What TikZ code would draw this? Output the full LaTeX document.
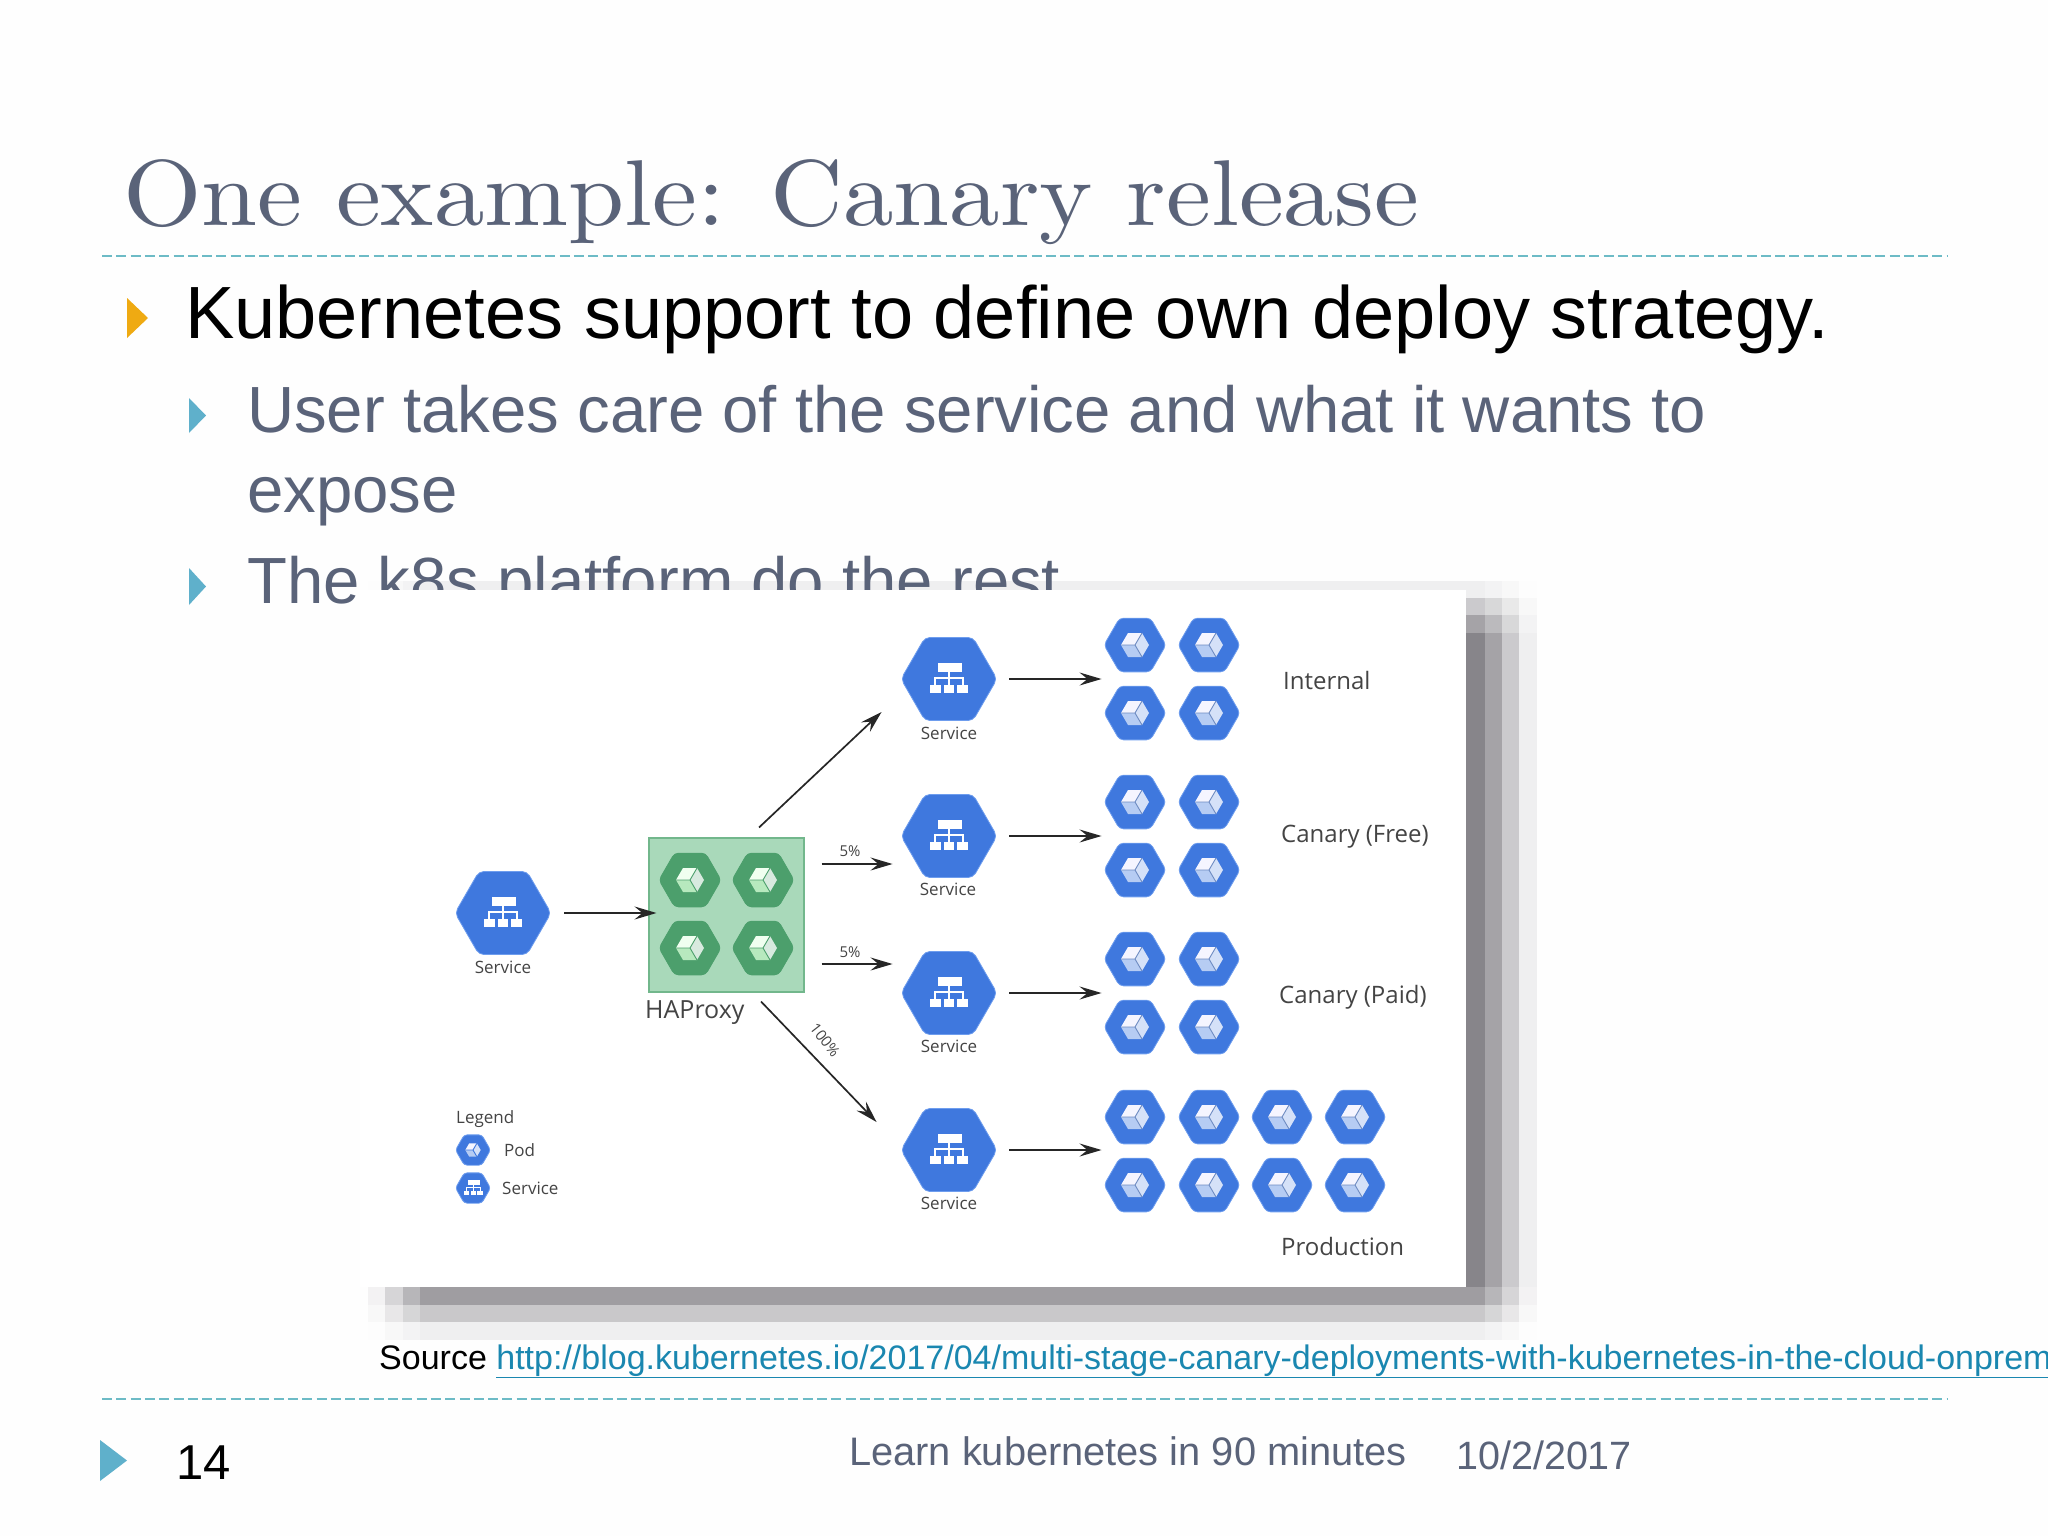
\documentclass[tikz,border=0pt]{standalone}
\usepackage{fontspec}
\usetikzlibrary{arrows.meta,shapes.geometric}
\newfontfamily\arialf{Liberation Sans}
\newfontfamily\imgf{Open Sans}
\newfontfamily\titlef[Extension=.otf,FakeStretch=1.079]{lmroman10-regular}
\definecolor{slate}{HTML}{5A6379}
\definecolor{teal1}{HTML}{5FB0CB}
\definecolor{dashc}{HTML}{6DBBC6}
\definecolor{gold1}{HTML}{EFAA12}
\definecolor{linkc}{HTML}{1A87B0}
\definecolor{shadowc}{HTML}{87858A}
\definecolor{hexblue}{HTML}{3F78DE}
\definecolor{hexrim}{HTML}{6E9DEE}
\definecolor{hexgreen}{HTML}{4C9F6C}
\definecolor{boxfill}{HTML}{A9D9BA}
\definecolor{boxrim}{HTML}{72B78C}
\definecolor{imgtext}{HTML}{444444}
\newcommand\fs[1]{\fontsize{#1}{#1}\selectfont}
\tikzset{
 x=1pt,y=-1pt,
 svchex/.style={regular polygon,regular polygon sides=6,inner sep=0pt,minimum size=96pt,fill=hexblue,draw=hexrim,line width=.8pt,rounded corners=5pt},
 podhex/.style={svchex,minimum size=62pt,rounded corners=4pt},
 leghex/.style={svchex,minimum size=35pt,rounded corners=3pt},
 greenhex/.style={podhex,fill=hexgreen,draw=hexgreen},
 arr/.style={-{Stealth[length=22pt,width=13pt,inset=8pt]},line width=1.7pt,draw=black!85},
 slab/.style={font=\imgf\fs{17},text=imgtext,inner sep=0pt},
 ilab/.style={font=\imgf\fs{24},text=imgtext,inner sep=0pt},
 smalllab/.style={font=\imgf\fs{15},text=imgtext,inner sep=0pt},
 slidetext/.style={font=\arialf\fs{65.3},text=slate,anchor=base west,inner sep=0pt},
 dashline/.style={draw=dashc,line width=1.5pt,dash pattern=on 10pt off 4.3pt},
}
% cube glyph
\newcommand\mycube[7]{% x y scale top right left linecolour
 \begin{scope}[shift={(#1,#2)},scale=#3]
 \fill[#4] (0,0)--(-14,0)--(-7,-12)--(7,-12)--cycle;
 \fill[#5] (0,0)--(7,-12)--(14,0)--(7,12)--cycle;
 \fill[#6] (0,0)--(7,12)--(-7,12)--(-14,0)--cycle;
 \draw[#7,line width=.9pt] (-14,0)--(0,0)--(7,-12) (0,0)--(7,12);
 \end{scope}}
% org-chart glyph
\newcommand\orgicon[4]{%
 \begin{scope}[shift={(#1,#2)},scale=#3]
 \fill[white] (-11,-16) rectangle (13,-7);
 \draw[white,line width=#4] (0,-7)--(0,6) (-14,6)--(-14,-1)--(14,-1)--(14,6);
 \fill[white] (-19,6) rectangle (-8,14);
 \fill[white] (-5,6) rectangle (5,14);
 \fill[white] (8,6) rectangle (19,14);
 \end{scope}}
\newcommand\pod[3]{\node[podhex] (#1) at (#2,#3) {};
 \mycube{#2}{#3}{1}{blue!4!white}{hexblue!22!white}{hexblue!38!white}{hexblue!75!black!70!white}}
\newcommand\gpod[3]{\node[greenhex] (#1) at (#2,#3) {};
 \mycube{#2}{#3}{1}{green!6!white}{hexgreen!22!white}{green!35!hexgreen!35!white}{hexgreen}}
\newcommand\svc[3]{\node[svchex] (#1) at (#2,#3) {};
 \orgicon{#2}{#3}{1}{1.8pt}}
\begin{document}
\begin{tikzpicture}
\useasboundingbox (0,0) rectangle (2048,1536);
\clip (0,0) rectangle (2048,1536);
\fill[white!99.5!black] (0,0) rectangle (2048,1536);
% soft pixelated shadow of the picture
\foreach \xa/\xb/\ca in {368/385/.13,385/403/.43,403/420/.75,420/1485/1,1485/1502/.75,1502/1519/.43,1519/1537/.13}{
 \foreach \ya/\yb/\cb in {581/598/.13,598/615/.43,615/633/.75,633/1287/1,1287/1305/.8,1305/1322/.45,1322/1340/.13}{
  \pgfmathsetmacro\v{100*\ca*\cb}
  \fill[shadowc!\v!white] (\xa,\ya) rectangle (\xb,\yb);
 }}
% slide text
\node[font=\titlef\fs{93.5},text=slate,anchor=base west,inner sep=0pt] (title) at (123,225) {One example: Canary release};
\draw[dashline] (102,256) -- (1948,256);
\fill[gold1] (127,298)--(148,318)--(127,338)--cycle;
\node[slidetext,font=\arialf\fs{74},text=black] (l1) at (185,338) {Kubernetes support to define own deploy strategy.};
\fill[teal1] (189,398)--(206,415.5)--(189,433)--cycle;
\node[slidetext] (l2) at (247,432) {User takes care of the service and what it wants to};
\node[slidetext] (l2b) at (247,512) {expose};
\fill[teal1] (189,568)--(206,586.5)--(189,605)--cycle;
\node[slidetext] (l3) at (247,603) {The k8s platform do the rest};
% picture
\fill[white] (360,590) rectangle (1466,1287);
% services
\svc{s0}{503}{913}
\svc{s1}{949}{679}
\svc{s2}{949}{836}
\svc{s3}{949}{993}
\svc{s4}{949}{1150}
\node[slab] (ls0) at (503,967) {Service};
\node[slab] (ls1) at (949,733) {Service};
\node[slab] (ls2) at (948,889) {Service};
\node[slab] (ls3) at (949,1046) {Service};
\node[slab] (ls4) at (949,1203) {Service};
% HAProxy
\node[draw=boxrim,fill=boxfill,line width=2pt,minimum width=155pt,minimum height=154pt,inner sep=0pt] (box) at (726,914.5) {};
\gpod{g1}{690}{880}
\gpod{g2}{763}{880}
\gpod{g3}{690}{948}
\gpod{g4}{763}{948}
\node[ilab,font=\imgf\fs{25},anchor=west] (hap) at (645,1013) {HAProxy};
% pods
\pod{a1}{1135}{645}\pod{a2}{1209}{645}\pod{a3}{1135}{713}\pod{a4}{1209}{713}
\pod{b1}{1135}{802}\pod{b2}{1209}{802}\pod{b3}{1135}{870}\pod{b4}{1209}{870}
\pod{c1}{1135}{959}\pod{c2}{1209}{959}\pod{c3}{1135}{1027}\pod{c4}{1209}{1027}
\pod{d1}{1135}{1117}\pod{d2}{1209}{1117}\pod{d3}{1282}{1117}\pod{d4}{1355}{1117}
\pod{e1}{1135}{1185}\pod{e2}{1209}{1185}\pod{e3}{1282}{1185}\pod{e4}{1355}{1185}
% connectors
\draw[arr] ([xshift=13pt]s0.east) -- ([xshift=9pt]s0.east -| box.west);
\draw[arr] ([shift={(33,-9)}]box.north) -- ([shift={(-19,33)}]s1.west);
\draw[arr] ([shift={(17,-50.5)}]box.east) -- ([shift={(-8,28)}]s2.west);
\draw[arr] ([shift={(17,49.5)}]box.east) -- ([shift={(-8,-29)}]s3.west);
\draw[arr] ([shift={(35,9)}]box.south) -- ([shift={(-24,-28)}]s4.west);
\draw[arr] ([xshift=12pt]s1.east) -- ([xshift=-2pt]s1.east -| a1.west);
\draw[arr] ([xshift=12pt]s2.east) -- ([xshift=-2pt]s2.east -| b1.west);
\draw[arr] ([xshift=12pt]s3.east) -- ([xshift=-2pt]s3.east -| c1.west);
\draw[arr] ([xshift=12pt]s4.east) -- ([xshift=-2pt]s4.east -| d1.west);
\node[smalllab] (p1) at (850,851) {5\%};
\node[smalllab] (p2) at (850,952) {5\%};
\node[smalllab,rotate=-52] (p3) at (825,1040) {100\%};
% group labels
\node[ilab,anchor=west] (t1) at (1283,680) {Internal};
\node[ilab,anchor=west] (t2) at (1281,837) {Canary (Free)};
\node[ilab,anchor=west] (t3) at (1279,997) {Canary (Paid)};
\node[ilab,anchor=west] (t4) at (1281,1246) {Production};
% legend
\node[slab,anchor=west] (lg) at (456,1119) {Legend};
\node[leghex] (lp) at (473,1150) {};
\mycube{473}{1150}{.55}{blue!4!white}{hexblue!22!white}{hexblue!38!white}{hexblue}
\node[leghex] (ls) at (473,1188) {};
\orgicon{473}{1188}{.5}{1pt}
\node[slab,anchor=west] (lgp) at (504,1150) {Pod};
\node[slab,anchor=west] (lgs) at (502,1188) {Service};
% source
\node[font=\arialf\fs{34},anchor=base west,inner sep=0pt] (src) at (379,1369) {Source \textcolor{linkc}{\underline{http://blog.kubernetes.io/2017/04/multi-stage-canary-deployments-with-kubernetes-in-the-cloud-onprem}}};
% footer
\draw[dashline] (102,1399) -- (1948,1399);
\fill[teal1] (100,1440)--(127,1460.5)--(100,1481)--cycle;
\node[font=\arialf\fs{49},anchor=base west,inner sep=0pt] (num) at (176,1479) {14};
\node[font=\arialf\fs{39.8},text=slate,anchor=base west,inner sep=0pt] (foot) at (849,1465) {Learn kubernetes in 90 minutes};
\node[font=\arialf\fs{39.5},text=slate,anchor=base west,inner sep=0pt] (date) at (1456,1469) {10/2/2017};
\end{tikzpicture}
\end{document}
